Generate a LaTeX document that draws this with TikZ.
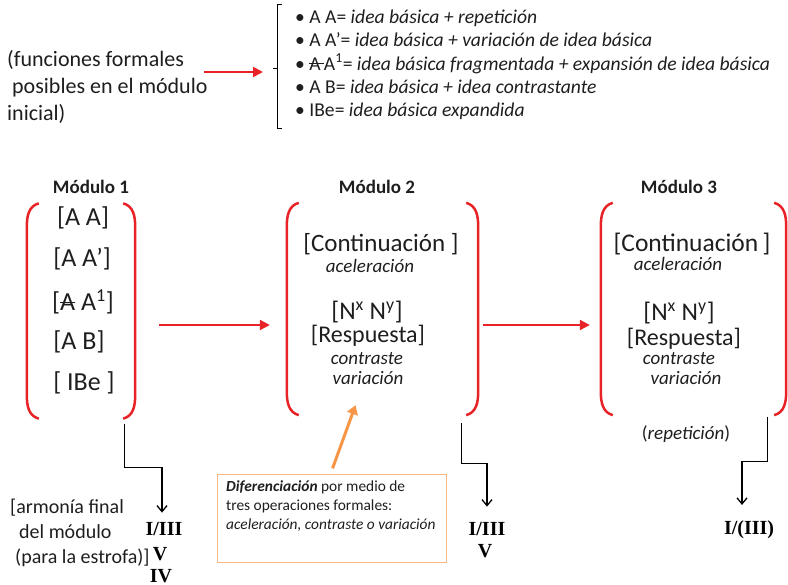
\documentclass[tikz,border=0pt]{standalone}
\usepackage{fontspec}
\setmainfont{Carlito}
\newfontfamily\romfont{Liberation Serif}
\usetikzlibrary{arrows.meta}
\definecolor{myred}{RGB}{232,35,40}
\definecolor{txt}{RGB}{30,30,30}
\definecolor{orarrow}{RGB}{247,150,70}
\definecolor{orbox}{RGB}{244,185,135}
\newcommand\fs[1]{\fontsize{#1}{#1}\selectfont}
\newcommand\stk[1]{\setbox0\hbox{#1}\rlap{\raisebox{0.3em}{\rule{\wd0}{0.06em}}}\box0}
\newcommand\lpar[1]{\draw[paren] ([xshift=12pt]#1.north west) .. controls ([xshift=2pt,yshift=-3pt]#1.north west) and ([yshift=-12pt]#1.north west) .. ([yshift=-24pt]#1.north west) -- ([yshift=24pt]#1.south west) .. controls ([yshift=12pt]#1.south west) and ([xshift=2pt,yshift=3pt]#1.south west) .. ([xshift=12pt]#1.south west);}
\newcommand\rpar[1]{\draw[paren] ([xshift=-12pt]#1.north east) .. controls ([xshift=-2pt,yshift=-3pt]#1.north east) and ([yshift=-12pt]#1.north east) .. ([yshift=-24pt]#1.north east) -- ([yshift=24pt]#1.south east) .. controls ([yshift=12pt]#1.south east) and ([xshift=-2pt,yshift=3pt]#1.south east) .. ([xshift=-12pt]#1.south east);}
\begin{document}
\begin{tikzpicture}[x=1pt,y=-1pt,
  every node/.style={inner sep=0pt, text=txt},
  paren/.style={draw=myred, line width=2.5pt},
  redarr/.style={draw=myred, line width=2pt, -{Triangle[length=10pt,width=10pt]}},
  blk/.style={draw=black, line width=1.3pt, -{Straight Barb[length=6pt,width=10pt]}},
  itm/.style={anchor=base, font=\fs{24}},
  itmb/.style={anchor=base, font=\fs{26}},
  sub/.style={anchor=base, font=\fs{19}\itshape},
  ttl/.style={anchor=base, font=\fs{19}\bfseries},
  rom/.style={anchor=base, font=\fs{20}\romfont\bfseries, text=black},
  lst/.style={anchor=base west, font=\fs{19.6}},
  lft/.style={anchor=base west, font=\fs{22}},
  arm/.style={anchor=base west, font=\fs{20}}]
\useasboundingbox (0,0) rectangle (788,585);

% top part
\node[lft] (l1) at (7,67) {(funciones formales};
\node[lft] (l2) at (7,94) {\ posibles en el módulo};
\node[lft] (l3) at (7,121) {inicial)};
\coordinate (brk) at (277,68);
\draw[redarr] (204,72) -- ([xshift=-14pt,yshift=-4pt]brk);
\draw[line width=0.8pt] (282,4) -- (277,4) -- (277,128) -- (282,128);
\draw[line width=0.8pt] (brk) -- ++(-4,0);
\node[lst] (t1) at (295,23.5) {• A A= \textit{idea básica + repetición}};
\node[lst] (t2) at (295,46.8) {• A A’= \textit{idea básica + variación de idea básica}};
\node[lst] (t3) at (295,70.1) {• \stk{A\,}A\textsuperscript{1}= \textit{idea básica fragmentada + expansión de idea básica}};
\node[lst] (t4) at (295,93.4) {• A B= \textit{idea básica + idea contrastante}};
\node[lst] (t5) at (295,116.7) {• IBe= \textit{idea básica expandida}};

% module frames
\node[minimum width=108pt, minimum height=215pt] (m1) at (81,311) {};
\node[minimum width=191pt, minimum height=212pt] (m2) at (382.5,309) {};
\node[minimum width=185pt, minimum height=212pt] (m3) at (693.5,309) {};
\lpar{m1}\rpar{m1}
\lpar{m2}\rpar{m2}
\lpar{m3}\rpar{m3}

\node[ttl] (h1) at (91,194) {Módulo 1};
\node[ttl] (h2) at (377,194) {Módulo 2};
\node[ttl] (h3) at (679,194) {Módulo 3};

% module 1
\node[itmb] (a1) at (83,226) {[A A]};
\node[itmb] (a2) at (82,267) {[A A’]};
\node[itmb] (a3) at (83,311) {[\stk{A}\hspace{0.23em}A\textsuperscript{1}]};
\node[itmb] (a4) at (79,350) {[A B]};
\node[itmb] (a5) at (84,391) {[ IBe ]};

% module 2
\node[itm, font=\fs{25}] (b1) at (381,252) {[Continuación ]};
\node[sub] (b2) at (370,273) {aceleración};
\node[itm, font=\fs{25.5}] (b3) at (367,320) {[N\textsuperscript{x} N\textsuperscript{y}]};
\node[itm] (b4) at (368,343) {[Respuesta]};
\node[sub] (b5) at (367,365) {contraste};
\node[sub] (b6) at (368,385) {variación};

% module 3
\node[itm, font=\fs{25.5}] (c1) at (692,252) {[Continuación\,]};
\node[sub] (c2) at (678,271) {aceleración};
\node[itm, font=\fs{25.5}] (c3) at (679,321) {[N\textsuperscript{x} N\textsuperscript{y}]};
\node[itm] (c4) at (684,346) {[Respuesta]};
\node[sub] (c5) at (679,365) {contraste};
\node[sub] (c6) at (686,385) {variación};
\node[anchor=base, font=\fs{19}] (rep) at (686,440) {(\textit{repetición})};

% red arrows
\coordinate (ya) at (0,325);
\draw[redarr, shorten <=24pt, shorten >=17pt] (m1.east |- ya) -- (m2.west |- ya);
\draw[redarr, shorten <=5pt, shorten >=11pt] (m2.east |- ya) -- (m3.west |- ya);

% harmony labels
\node[arm] (h1a) at (10,514) {[armonía final};
\node[arm] (h1b) at (19,539) {del módulo};
\node[arm] (h1c) at (15,563) {(para la estrofa)]};

\node[rom] (r1) at (164,535) {I/III};
\node[rom] (r1b) at (160,560) {V};
\node[rom] (r1c) at (161,582) {IV};
\node[rom] (r2) at (487,535) {I/III};
\node[rom] (r2b) at (485,557) {V};
\node[rom] (r3) at (749,534) {I/(III)};

\draw[blk, shorten >=9pt] ([xshift=-11pt,yshift=-5pt]m1.south east) -- ++(0,44) -| ([xshift=-2pt]r1.north);
\draw[blk, shorten >=15pt] ([xshift=-17pt,yshift=-8pt]m2.south east) -- ++(0,40) -| (r2.north);
\draw[blk, shorten >=15pt] ([xshift=-19pt,yshift=-2pt]m3.south east) -- ++(0,44) -| ([xshift=-7pt]r3.north);

% orange box
\node[draw=orbox, line width=1pt, minimum width=229pt, minimum height=88pt, anchor=north west] (ob) at (217,474) {};
\node[anchor=north west, align=left, font=\fontsize{15.4}{19}\selectfont] (obt) at (226,480)
  {\textbf{\textit{Diferenciación}} por medio de\\tres operaciones formales:\\\textit{aceleración, contraste o variación}};
\draw[orarrow, line width=3pt, -{Triangle[length=9pt,width=11pt]}, shorten <=6pt] ([xshift=-1.5pt]ob.north) -- ([xshift=-27pt,yshift=10pt]m2.south);
\end{tikzpicture}
\end{document}
